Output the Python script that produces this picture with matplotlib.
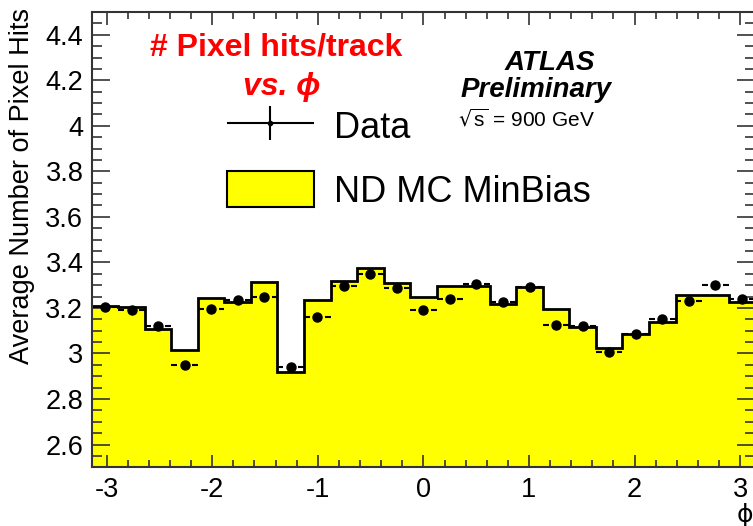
import numpy as np
import matplotlib
matplotlib.use('Agg')
import matplotlib.pyplot as plt
from matplotlib.patches import Patch
from matplotlib.legend_handler import HandlerErrorbar
from matplotlib.ticker import MultipleLocator

plt.rcParams['font.family'] = ['Liberation Sans', 'DejaVu Sans']

# 25 bins in phi from -pi to pi
n_bins = 25
edges = np.linspace(-np.pi, np.pi, n_bins + 1)

data_hits = [3.206, 3.190, 3.121, 2.949, 3.194, 3.236, 3.250, 2.942, 3.162, 3.298,
             3.348, 3.289, 3.190, 3.238, 3.304, 3.226, 3.291, 3.125, 3.121, 3.008,
             3.084, 3.153, 3.232, 3.301, 3.239]
mc_hits = [3.210, 3.205, 3.106, 3.015, 3.243, 3.228, 3.313, 2.917, 3.235, 3.319,
           3.377, 3.311, 3.247, 3.298, 3.298, 3.216, 3.294, 3.194, 3.115, 3.025,
           3.084, 3.137, 3.257, 3.257, 3.226]

centers = 0.5 * (edges[:-1] + edges[1:])
half_w = 0.5 * (edges[1] - edges[0])

fig = plt.figure(figsize=(7.53, 5.26), dpi=100)
ax = fig.add_axes([0.1218, 0.1116, 0.881, 0.8656])

# MC histogram: yellow fill + black outline
ax.stairs(mc_hits, edges, baseline=0, fill=True, color='#ffff00', zorder=1)
ax.stairs(mc_hits, edges, baseline=None, color='black', lw=2, zorder=2)

# data points, ROOT style: horizontal error bar with a gap around the marker
gap = 0.07
ax.hlines(data_hits, centers - half_w, centers - gap, color='black', lw=1.5, zorder=3)
ax.hlines(data_hits, centers + gap, centers + half_w, color='black', lw=1.5, zorder=3)
ax.plot(centers, data_hits, 'o', color='black', ms=6.5, zorder=4)

ax.set_xlim(-np.pi, np.pi)
ax.set_ylim(2.5, 4.5)
ax.xaxis.set_major_locator(MultipleLocator(1))
ax.xaxis.set_minor_locator(MultipleLocator(0.2))
ax.yaxis.set_major_locator(MultipleLocator(0.2))
ax.yaxis.set_minor_locator(MultipleLocator(0.05))
ax.set_yticks(np.arange(2.6, 4.45, 0.2))
ax.set_yticklabels(['2.6', '2.8', '3', '3.2', '3.4', '3.6', '3.8', '4', '4.2', '4.4'])
ax.set_xticks([-3, -2, -1, 0, 1, 2, 3])
ax.set_xticklabels(['-3', '-2', '-1', '0', '1', '2', '3'])

ax.tick_params(axis='both', which='both', direction='in', top=True, right=True,
               color='#333333', labelsize=19.5)
ax.tick_params(axis='x', which='major', length=9, width=1.2, pad=7)
ax.tick_params(axis='x', which='minor', length=5, width=1.2)
ax.tick_params(axis='y', which='major', length=13, width=1.2, pad=6)
ax.tick_params(axis='y', which='minor', length=7, width=1.2)
for sp in ax.spines.values():
    sp.set_linewidth(1.5)
    sp.set_color('#333333')
    sp.set_zorder(5)

fig.text(22 / 753, 1 - 8 / 526, 'Average Number of Pixel Hits', rotation=90,
         ha='center', va='top', fontsize=19.5)
fig.text(745 / 753, 1 - 515 / 526, '\u03d5', ha='center', va='center', fontsize=18,
         family=['DejaVu Sans'])

# red titles
fig.text(276 / 753, 1 - 48 / 526, '# Pixel hits/track', color='#ff0000',
         fontsize=23, fontweight='bold', ha='center', va='center')
fig.text(282 / 753, 1 - 87 / 526, 'vs. \u03d5', color='#ff0000', fontsize=23,
         fontweight='bold', style='italic', ha='center', va='center',
         family=['Liberation Sans', 'DejaVu Sans'])

# ATLAS label
fig.text(550 / 753, 1 - 63 / 526, 'ATLAS', fontsize=20, fontweight='bold',
         style='italic', ha='center', va='center')
fig.text(536 / 753, 1 - 90 / 526, 'Preliminary', fontsize=20, fontweight='bold',
         style='italic', ha='center', va='center')
fig.text(527 / 753, 1 - 119 / 526, r'$\sqrt{\mathregular{s}}$ = 900 GeV', fontsize=15,
         ha='center', va='center')

# legend
h_data = ax.errorbar([], [], xerr=1, yerr=1, fmt='o', ms=3, color='black', lw=1.5)
h_mc = Patch(facecolor='#ffff00', edgecolor='black', lw=1.5)
ax.legend([h_data, h_mc], ['Data', 'ND MC MinBias'], loc='upper left',
          bbox_to_anchor=(227 / 753, 1 - 108 / 526), bbox_transform=fig.transFigure,
          frameon=False, fontsize=26, handlelength=2.4, handleheight=1.15,
          handletextpad=0.55, labelspacing=0.7, borderpad=0, borderaxespad=0,
          handler_map={type(h_data): HandlerErrorbar(xerr_size=1.2, yerr_size=0.48)})

fig.savefig('out.png', dpi=100)
